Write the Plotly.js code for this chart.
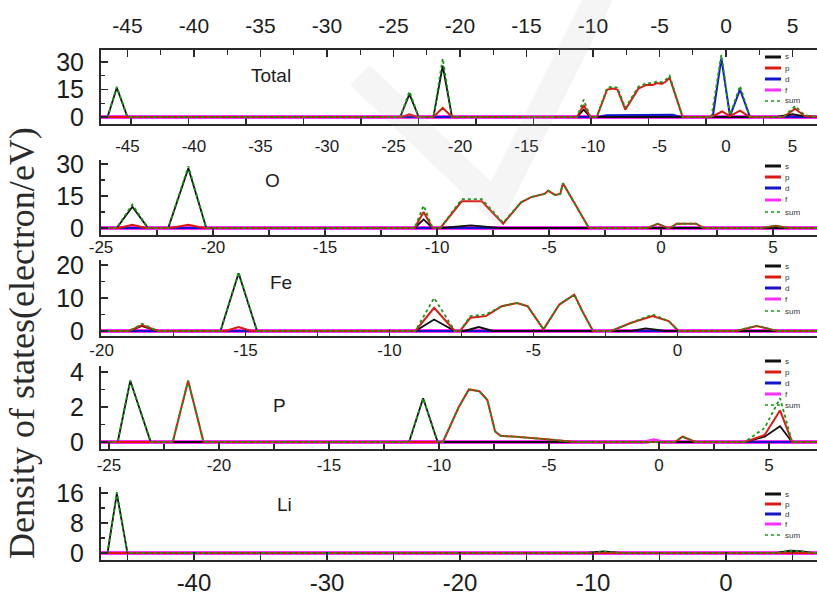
<!DOCTYPE html>
<html>
<head>
<meta charset="utf-8">
<script src="https://cdn.plot.ly/plotly-3.0.1.min.js"></script>
<style>html,body{margin:0;padding:0;background:#fff;}#chart{width:817px;height:598px;}</style>
</head>
<body>
<div id="chart"></div>
<script>
// ---------------- DATA (energy in eV, DOS in electron/eV) ----------------
const orbitals = ['s', 'p', 'd', 'f', 'sum'];
const panelNames = ['Total', 'O', 'Fe', 'P', 'Li'];

// tick labels
const ticks45 = [-45, -40, -35, -30, -25, -20, -15, -10, -5, 0, 5];
const ticks45Text = ['-45', '-40', '-35', '-30', '-25', '-20', '-15', '-10', '-5', '0', '5'];
const ticks25 = [-25, -20, -15, -10, -5, 0, 5];
const ticks25Text = ['-25', '-20', '-15', '-10', '-5', '0', '5'];
const ticks20 = [-20, -15, -10, -5, 0, 5];
const ticks20Text = ['-20', '-15', '-10', '-5', '0', '5'];
const ticksLi = [-40, -30, -20, -10, 0];
const ticksLiText = ['-40', '-30', '-20', '-10', '0'];

// Total
const total_s_x = [-47, -46.5, -45.8, -45.0, -24.5, -23.8, -23.1, -22.0, -21.3, -20.6, -11.2, -10.7, -10.2, 3.8, 5.0, 5.8, 6.84];
const total_s_y = [0, 0, 16, 0, 0, 12.5, 0, 0, 28, 0, 0, 4, 0, 0, 1.5, 0.5, 0];
const total_p_x = [-47, -24.4, -23.8, -23.2, -22.0, -21.3, -20.6, -11.2, -10.7, -10.2, -9.72, -8.94, -8.5, -8.16, -7.57, -6.59, -6.0, -5.5, -5.2, -4.83, -4.5, -4.24, -3.26, -1.1, -0.3, 0.3, 1.05, 1.8, 4.3, 5.2, 5.9, 6.84];
const total_p_y = [0, 0, 1.5, 0, 0, 5, 0, 0, 6.5, 0, 0, 15, 15.5, 15, 4, 15.5, 17.5, 17.5, 18.5, 18, 19.5, 21.5, 0, 0, 3, 0.5, 3.5, 0, 0, 4.5, 0.5, 0];
const total_d_x = [-47, -9.6, -9.0, -6.5, -4.0, -3.4, -1.0, -0.35, 0.3, 1.05, 1.8, 6.84];
const total_d_y = [0, 0, 1.0, 1.3, 1.2, 0, 0, 32, 0.5, 15, 0, 0];
const total_f_x = [-47, 6.84];
const total_f_y = [0, 0];
const total_sum_x = [-47, -46.5, -45.8, -45.0, -24.5, -23.8, -23.1, -22.0, -21.3, -20.6, -11.2, -10.7, -10.2, -9.72, -8.94, -8.5, -8.16, -7.57, -6.59, -6.0, -5.5, -5.2, -4.83, -4.5, -4.24, -3.26, -1.1, -0.35, 0.3, 1.05, 1.8, 4.3, 5.2, 5.9, 6.84];
const total_sum_y = [0, 0, 16.5, 0, 0, 14, 0, 0, 32, 0, 0, 9.5, 0, 0, 16, 16.5, 16, 5, 16.5, 18.5, 18.5, 19.5, 19, 20.5, 22.5, 0, 0, 34, 1, 17, 0, 0, 6, 1, 0];

// O
const o_s_x = [-25, -24.3, -23.6, -22.9, -22.0, -21.1, -20.3, -11.0, -10.6, -10.2, -9.8, -8.5, -7.2, 6.96];
const o_s_y = [0, 0, 10, 0, 0, 28, 0, 0, 4, 0, 0, 1.2, 0, 0];
const o_p_x = [-25, -24.2, -23.6, -23.0, -21.9, -21.1, -20.4, -11.0, -10.6, -10.2, -9.85, -8.9, -8.0, -7.05, -6.25, -5.8, -5.2, -5.04, -4.73, -4.5, -4.38, -3.22, -0.6, -0.15, 0.3, 0.4, 0.7, 1.56, 1.9, 4.5, 5.1, 5.7, 6.96];
const o_p_y = [0, 0, 1.5, 0, 0, 1.5, 0, 0, 7.5, 0, 0, 12.5, 12.5, 2, 12, 14.5, 16, 17.5, 15.5, 16, 21, 0, 0, 2, 0, 0, 2, 2, 0, 0, 1, 0, 0];
const o_d_x = [-25, 6.96];
const o_d_y = [0, 0];
const o_f_x = [-25, 6.96];
const o_f_y = [0, 0];
const o_sum_x = [-25, -24.3, -23.6, -22.9, -22.0, -21.1, -20.3, -11.0, -10.6, -10.2, -9.85, -8.9, -8.0, -7.05, -6.25, -5.8, -5.2, -5.04, -4.73, -4.5, -4.38, -3.22, -0.6, -0.15, 0.3, 0.4, 0.7, 1.56, 1.9, 4.5, 5.1, 5.7, 6.96];
const o_sum_y = [0, 0, 11, 0, 0, 29, 0, 0, 10.5, 0, 0, 13.5, 13.5, 2.5, 12, 14.5, 16, 17.5, 15.5, 16, 21, 0, 0, 2, 0, 0, 2, 2, 0, 0, 1, 0, 0];

// Fe
const fe_s_x = [-20.02, -19.04, -18.59, -18.05, -15.87, -15.24, -14.6, -9.1, -8.45, -7.73, -7.4, -6.9, -6.4, -1.6, -1.1, -0.4, 4.85];
const fe_s_y = [0, 0, 1.5, 0, 0, 17.5, 0, 0, 3.5, 0, 0, 1.2, 0, 0, 0.8, 0, 0];
const fe_p_x = [-20.02, -19.04, -18.59, -18.05, -15.7, -15.24, -14.8, -9.1, -8.45, -7.73, -7.55, -7.19, -6.65, -6.1, -5.57, -5.2, -4.65, -4.1, -3.58, -3.3, -2.93, -2.3, -1.6, -0.86, -0.3, 0.04, 2.04, 2.76, 3.47, 4.85];
const fe_p_y = [0, 0, 1.8, 0, 0, 1.2, 0, 0, 7, 0, 0, 4, 4.5, 7.5, 8.5, 7.5, 0.5, 8, 11, 6, 0, 0, 2.5, 4.5, 3, 0, 0, 1.5, 0, 0];
const fe_d_x = [-20.02, 4.85];
const fe_d_y = [0, 0];
const fe_f_x = [-20.02, 4.85];
const fe_f_y = [0, 0];
const fe_sum_x = [-20.02, -19.04, -18.59, -18.05, -15.87, -15.24, -14.6, -9.1, -8.45, -7.73, -7.55, -7.19, -6.65, -6.1, -5.57, -5.2, -4.65, -4.1, -3.58, -3.3, -2.93, -2.3, -1.6, -0.86, -0.3, 0.04, 2.04, 2.76, 3.47, 4.85];
const fe_sum_y = [0, 0, 2.2, 0, 0, 17.8, 0, 0, 10, 0, 0, 4.5, 5, 7.5, 8.5, 7.5, 0.5, 8, 11, 6, 0, 0, 2.5, 5, 3, 0, 0, 1.6, 0, 0];

// P
const p_s_x = [-25.36, -24.6, -24.03, -23.1, -11.36, -10.72, -10.06, 3.9, 4.8, 5.5, 6.05, 7.18];
const p_s_y = [0, 0, 3.5, 0, 0, 2.5, 0, 0, 0.3, 0.9, 0, 0];
const p_p_x = [-25.36, -22.1, -21.4, -20.7, -9.82, -9.1, -8.64, -8.16, -7.8, -7.45, -7.2, -6.5, -5.1, -4.37, -3.8, 0.72, 1.07, 1.67, 3.9, 4.8, 5.5, 6.05, 7.18];
const p_p_y = [0, 0, 3.5, 0, 0, 2.0, 3.0, 2.9, 2.4, 0.6, 0.35, 0.3, 0.15, 0.08, 0, 0, 0.3, 0, 0, 0.4, 1.8, 0, 0];
const p_d_x = [-25.36, 7.18];
const p_d_y = [0, 0];
const p_f_x = [-25.36, -0.6, -0.23, 0.1, 7.18];
const p_f_y = [0, 0, 0.1, 0, 0];
const p_sum_x = [-25.36, -24.6, -24.03, -23.1, -22.1, -21.4, -20.7, -11.36, -10.72, -10.06, -9.82, -9.1, -8.64, -8.16, -7.8, -7.45, -7.2, -6.5, -5.1, -4.37, -3.8, 0.72, 1.07, 1.67, 3.9, 4.8, 5.5, 6.05, 7.18];
const p_sum_y = [0, 0, 3.5, 0, 0, 3.5, 0, 0, 2.5, 0, 0, 2.0, 3.0, 2.9, 2.4, 0.6, 0.35, 0.3, 0.15, 0.08, 0, 0, 0.3, 0, 0, 0.8, 2.5, 0, 0];

// Li
const li_s_x = [-46.99, -46.5, -45.8, -45.0, -10.5, -9.2, -8.0, 3.8, 4.8, 5.6, 6.5, 6.84];
const li_s_y = [0, 0, 15.8, 0, 0, 0.4, 0, 0, 0.6, 0.5, 0, 0];
const li_p_x = [-46.99, 6.84];
const li_p_y = [0, 0];
const li_d_x = [-46.99, 6.84];
const li_d_y = [0, 0];
const li_f_x = [-46.99, 6.84];
const li_f_y = [0, 0];
const li_sum_x = [-46.99, -46.5, -45.8, -45.0, -10.5, -9.2, -8.0, 3.8, 4.8, 5.6, 6.5, 6.84];
const li_sum_y = [0, 0, 16.2, 0, 0, 0.4, 0, 0, 0.6, 0.5, 0, 0];

// ---------------- STYLE / LAYOUT ----------------
const FONT = '"Liberation Sans Narrow", "Arial Narrow", "Liberation Sans", Arial, sans-serif';
const SERIF = '"Liberation Serif", "Times New Roman", serif';
const AX = '#2a2a2a';
const styles = {
  s:   {color: '#111111', width: 1.8},
  p:   {color: '#dd1a12', width: 2},
  d:   {color: '#1515cc', width: 2},
  f:   {color: '#ff2cff', width: 4},
  sum: {color: '#159915', width: 1.8, dash: 'dot'}
};
const drawOrder = ['f', 'd', 's', 'p', 'sum'];

const W = 817, H = 598, L = 101, T = 50, B = 38;
const PW = W - L, PH = H - T - B;
const px2x = px => (px - L) / PW;
const py2y = py => (H - B - py) / PH;

const panelData = {
  Total: {s:[total_s_x,total_s_y], p:[total_p_x,total_p_y], d:[total_d_x,total_d_y], f:[total_f_x,total_f_y], sum:[total_sum_x,total_sum_y]},
  O:     {s:[o_s_x,o_s_y], p:[o_p_x,o_p_y], d:[o_d_x,o_d_y], f:[o_f_x,o_f_y], sum:[o_sum_x,o_sum_y]},
  Fe:    {s:[fe_s_x,fe_s_y], p:[fe_p_x,fe_p_y], d:[fe_d_x,fe_d_y], f:[fe_f_x,fe_f_y], sum:[fe_sum_x,fe_sum_y]},
  P:     {s:[p_s_x,p_s_y], p:[p_p_x,p_p_y], d:[p_d_x,p_d_y], f:[p_f_x,p_f_y], sum:[p_sum_x,p_sum_y]},
  Li:    {s:[li_s_x,li_s_y], p:[li_p_x,li_p_y], d:[li_d_x,li_d_y], f:[li_f_x,li_f_y], sum:[li_sum_x,li_sum_y]}
};

const panels = {
  Total: {top: 50,  bot: 124, yr: [-3.83, 36.6], dy: 15, my: 7.5, xr: [-46.99, 6.84], label: [271, 75],  leg: [57, 68, 79, 90, 101]},
  O:     {top: 160, bot: 235, yr: [-3.29, 31.9], dy: 15, my: 7.5, xr: [-25.0, 6.96],  label: [272, 180], leg: [166, 177, 188, 200, 212]},
  Fe:    {top: 260, bot: 336, yr: [-1.52, 21.5], dy: 10, my: 5,   xr: [-20.02, 4.85], label: [281, 282], leg: [266, 277, 288, 299, 311]},
  P:     {top: 366, bot: 449, yr: [-0.4, 4.34],  dy: 2,  my: 1,   xr: [-25.36, 7.18], label: [279, 405], leg: [361, 372, 383, 394, 405]},
  Li:    {top: 487, bot: 560, yr: [-1.87, 17.6], dy: 8,  my: 4,   xr: [-46.99, 6.84], label: [284, 505], leg: [494, 504, 514, 524, 535]}
};

const traces = [];
const layout = {
  width: W, height: H,
  margin: {l: L, r: 0, t: T, b: B, pad: 0},
  paper_bgcolor: '#ffffff', plot_bgcolor: 'rgba(0,0,0,0)',
  showlegend: false,
  font: {family: FONT, color: '#1c1c1c'},
  annotations: [], shapes: []
};

panelNames.forEach((name, i) => {
  const k = i + 1;
  const xa = k === 1 ? 'x' : 'x' + k;
  const ya = k === 1 ? 'y' : 'y' + k;
  const pn = panels[name];
  drawOrder.forEach(orb => {
    const d = panelData[name][orb];
    traces.push({type: 'scatter', mode: 'lines', x: d[0], y: d[1], xaxis: xa, yaxis: ya,
      line: Object.assign({shape: 'linear'}, styles[orb]), hoverinfo: 'skip'});
  });
  layout[k === 1 ? 'yaxis' : 'yaxis' + k] = {
    domain: [py2y(pn.bot), py2y(pn.top)], range: pn.yr, anchor: xa,
    showline: true, linecolor: AX, linewidth: 2, showgrid: false, zeroline: false,
    ticks: 'inside', ticklen: 7, tickwidth: 1.5, tickcolor: AX,
    tick0: 0, dtick: pn.dy,
    minor: {ticks: 'inside', ticklen: 4, tickwidth: 1.2, tickcolor: AX, dtick: pn.my, tick0: 0},
    tickfont: {size: 25, family: FONT, color: '#1c1c1c'}, ticklabelstandoff: 10
  };
  layout.annotations.push({text: name, xref: 'paper', yref: 'paper', x: px2x(pn.label[0]), y: py2y(pn.label[1]),
    showarrow: false, font: {size: 19, family: FONT, color: '#1c1c1c'}, xanchor: 'center', yanchor: 'middle'});
  orbitals.forEach((orb, j) => {
    const st = styles[orb];
    layout.shapes.push({type: 'line', xref: 'paper', yref: 'paper',
      x0: px2x(765), x1: px2x(781), y0: py2y(pn.leg[j]), y1: py2y(pn.leg[j]),
      line: {color: st.color, width: orb === 'sum' ? 1.5 : 3, dash: orb === 'sum' ? 'dot' : 'solid'}});
    layout.annotations.push({text: orb, xref: 'paper', yref: 'paper', x: px2x(783), y: py2y(pn.leg[j]),
      showarrow: false, xanchor: 'left', yanchor: 'middle', font: {size: 8, family: FONT, color: '#333'}});
  });
});

// empty traces so the extra frame / label axes get drawn
traces.push({type: 'scatter', mode: 'lines', x: [], y: [], xaxis: 'x6', yaxis: 'y', hoverinfo: 'skip'});
traces.push({type: 'scatter', mode: 'lines', x: [], y: [], xaxis: 'x7', yaxis: 'y2', hoverinfo: 'skip'});

const baseX = {showgrid: false, zeroline: false, ticks: 'inside', tickcolor: AX, tickwidth: 1.5,
  linecolor: AX, linewidth: 2, showline: true, domain: [0, 1], tickmode: 'array'};
const minorX = step => ({ticks: 'inside', ticklen: 5, tickcolor: AX, tickwidth: 1.2, tickmode: 'linear', dtick: step, tick0: 0});

layout.xaxis = Object.assign({}, baseX, {anchor: 'y', side: 'top', range: panels.Total.xr,
  tickvals: ticks45, ticktext: ticks45Text, ticklen: 7, minor: minorX(2.5),
  tickfont: {size: 21, family: FONT}, ticklabelstandoff: 7});
layout.xaxis2 = Object.assign({}, baseX, {anchor: 'y2', range: panels.O.xr,
  tickvals: ticks25, ticktext: ticks25Text, ticklen: 7, minor: minorX(2.5),
  tickfont: {size: 17, family: FONT}, ticklabelstandoff: -4});
layout.xaxis3 = Object.assign({}, baseX, {anchor: 'y3', range: panels.Fe.xr,
  tickvals: ticks20, ticktext: ticks20Text, ticklen: 7, minor: minorX(2.5),
  tickfont: {size: 17, family: FONT}, ticklabelstandoff: -2});
layout.xaxis4 = Object.assign({}, baseX, {anchor: 'y4', range: panels.P.xr,
  tickvals: ticks25, ticktext: ticks25Text, ticklen: 7, minor: minorX(2.5),
  tickfont: {size: 17, family: FONT}, ticklabelstandoff: 0});
layout.xaxis5 = Object.assign({}, baseX, {anchor: 'y5', range: panels.Li.xr,
  tickvals: ticksLi, ticktext: ticksLiText, ticklen: 8,
  minor: {ticks: 'inside', ticklen: 8, tickcolor: AX, tickwidth: 1.5, tickmode: 'linear', dtick: 5, tick0: 0},
  tickfont: {size: 24, family: FONT}, ticklabelstandoff: 0});
layout.xaxis6 = {showgrid: false, zeroline: false, ticks: 'inside', tickcolor: AX, tickwidth: 1.5,
  linecolor: AX, linewidth: 2, showline: true, anchor: 'y', overlaying: 'x', side: 'bottom',
  range: [0, PW / 57.5], tickmode: 'linear', tick0: 30 / 57.5, dtick: 1, ticklen: 6, showticklabels: false};
layout.xaxis7 = {overlaying: 'x2', anchor: 'y2', side: 'top', range: panels.Total.xr,
  showline: false, ticks: '', showgrid: false, zeroline: false, tickmode: 'array',
  tickvals: ticks45, ticktext: ticks45Text, tickfont: {size: 17, family: FONT}, ticklabelstandoff: 4};

layout.annotations.push({text: 'Density of states(electron/eV)', xref: 'paper', yref: 'paper',
  x: px2x(22), y: py2y(343), textangle: -90, showarrow: false, xanchor: 'center', yanchor: 'middle',
  font: {size: 36, family: SERIF, color: '#2a2a2a'}});

layout.shapes.push({type: 'path', xref: 'paper', yref: 'paper', layer: 'above',
  path: 'M ' + px2x(360) + ' ' + py2y(75) + ' L ' + px2x(495) + ' ' + py2y(205) + ' L ' + px2x(600) + ' ' + py2y(-5),
  line: {color: 'rgba(170,170,170,0.12)', width: 28}});

Plotly.newPlot('chart', traces, layout, {staticPlot: true, displayModeBar: false});
</script>
</body>
</html>
